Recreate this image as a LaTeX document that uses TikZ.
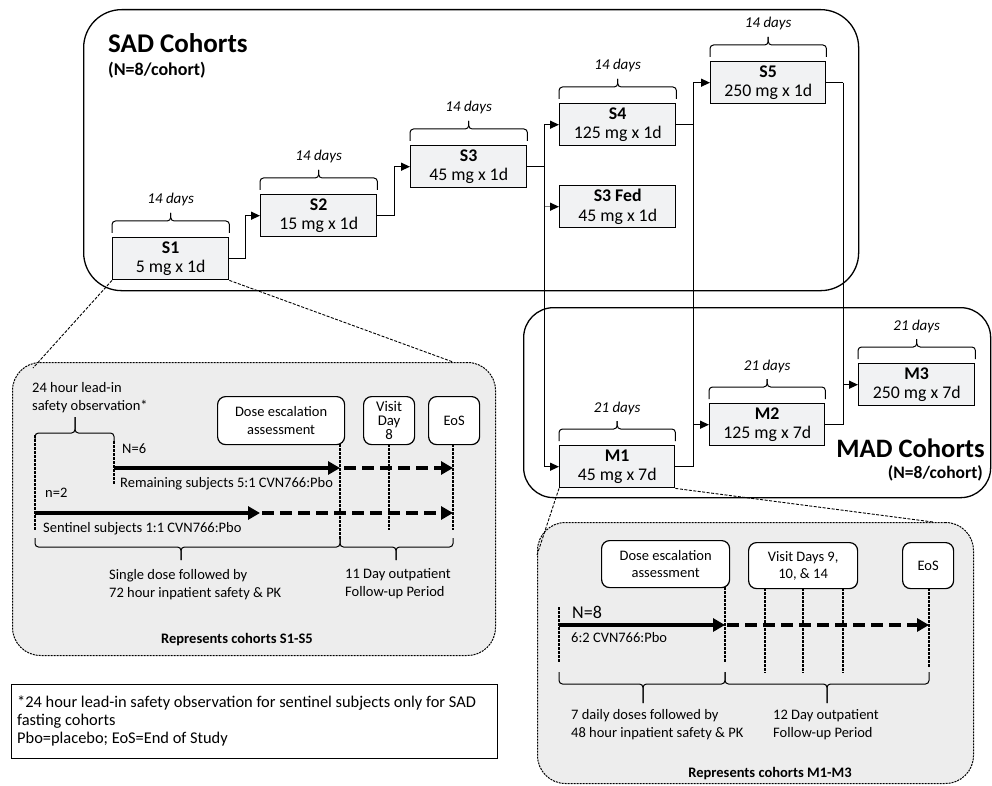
\documentclass[tikz,border=0pt]{standalone}
\usepackage{fontspec}
\setmainfont{Carlito}
\usetikzlibrary{arrows.meta,calc}
\definecolor{boxgray}{HTML}{F1F2F3}
\definecolor{panelgray}{HTML}{EDEDED}
\newcommand{\ptxt}{\fontsize{14.5}{17.3}\selectfont}
% Word-style brace: x1, x2, x of tip, y of ends, y of bar, y of tip
\newcommand{\wbr}[6]{%
  \draw[wbrace] (#1,#4) -- (#1,#5) -- (#3,#5) -- (#3,#6);
  \draw[wbrace] (#2,#4) -- (#2,#5) -- (#3,#5) -- (#3,#6);}
\begin{document}
\begin{tikzpicture}[x=1pt,y=-1pt,
  container/.style={draw, line width=1.3pt, rounded corners=38pt, inner sep=0pt, anchor=north west},
  sbox/.style={draw, line width=1.4pt, fill=boxgray, minimum width=116pt, minimum height=42pt, inner sep=0pt, align=center, font=\fontsize{17.8}{19.5}\selectfont, anchor=north west},
  days/.style={font=\fontsize{15}{16}\selectfont\itshape, anchor=base},
  wbrace/.style={line width=1pt, rounded corners=3.5pt},
  conn/.style={line width=1.3pt, -{Triangle[length=9pt,width=8pt]}},
  link/.style={line width=1.3pt},
  zoomline/.style={line width=0.9pt, dash pattern=on 3pt off 1.5pt},
  panel/.style={draw, dash pattern=on 2pt off 1pt, line width=1pt, fill=panelgray, rounded corners=28pt, inner sep=0pt, anchor=north west},
  rbox/.style={draw, fill=white, rounded corners=8pt, line width=1.2pt, align=center, font=\ptxt, inner sep=0pt, anchor=north west},
  fat/.style={line width=4pt, -{Triangle[length=12pt,width=13pt]}},
  fatdash/.style={fat, dash pattern=on 12pt off 6pt},
  tick/.style={line width=1.8pt, dash pattern=on 3pt off 1pt},
  ptext/.style={font=\ptxt, anchor=base west, inner sep=0pt},
  rep/.style={font=\fontsize{14.5}{16}\selectfont\bfseries, anchor=base, inner sep=0pt},
  fntext/.style={font=\fontsize{16.4}{18}\selectfont, anchor=base west, inner sep=0pt}
]
\useasboundingbox (0,0) rectangle (992,786);

% containers
\node[container, minimum width=775pt, minimum height=281pt] (SAD) at (83,9) {};
\node[container, rounded corners=30pt, minimum width=467pt, minimum height=190pt] (MAD) at (523,307) {};
\node[font=\fontsize{27}{30}\selectfont\bfseries, anchor=base west, inner sep=0pt] (sadt) at (108,53) {SAD Cohorts};
\node[font=\fontsize{18}{20}\selectfont\bfseries, anchor=base west, inner sep=0pt] (sadn) at (108,76) {(N=8/cohort)};
\node[font=\fontsize{26.6}{30}\selectfont\bfseries, anchor=base east, inner sep=0pt] (madt) at (985,457) {MAD Cohorts};
\node[font=\fontsize{17.5}{20}\selectfont\bfseries, anchor=base east, inner sep=0pt] (madn) at (983,478) {(N=8/cohort)};

% cohort boxes
\node[sbox] (S1) at (112,237) {\textbf{S1}\\5 mg x 1d};
\node[sbox] (S2) at (260,194) {\textbf{S2}\\15 mg x 1d};
\node[sbox] (S3) at (410,145) {\textbf{S3}\\45 mg x 1d};
\node[sbox] (S4) at (559,103) {\textbf{S4}\\125 mg x 1d};
\node[sbox] (S3F) at (559,185) {\textbf{S3 Fed}\\45 mg x 1d};
\node[sbox, minimum width=115pt] (S5) at (710,61) {\textbf{S5}\\250 mg x 1d};
\node[sbox, minimum width=115pt] (M1) at (559,445) {\textbf{M1}\\45 mg x 7d};
\node[sbox, minimum width=115pt] (M2) at (709,403) {\textbf{M2}\\125 mg x 7d};
\node[sbox] (M3) at (858,363) {\textbf{M3}\\250 mg x 7d};

% braces and durations
\foreach \b/\t in {S1/14 days,S2/14 days,S3/14 days,S4/14 days,S5/14 days,M1/21 days,M2/21 days,M3/21 days}{
  \draw[wbrace] ([yshift=4pt]\b.north west) -- ([yshift=16pt]\b.north west) -- ([yshift=16pt]\b.north) -- ([yshift=24pt]\b.north);
  \draw[wbrace] ([yshift=4pt]\b.north east) -- ([yshift=16pt]\b.north east) -- ([yshift=16pt]\b.north) -- ([yshift=24pt]\b.north);
  \node[days] at ([yshift=33pt]\b.north) {\t};
}

% connectors
\draw[conn] (S1.east) -- ++(16,0) |- (S2.west);
\draw[conn] (S2.east) -- ++(17,0) |- (S3.west);
\draw[link] (S3.east) -- ++(17,0) coordinate (b1);
\draw[conn] (b1) |- (S4.west);
\draw[line width=1.3pt, draw=gray, -{Triangle[length=9pt,width=8pt,color=black]}] (b1) |- (S3F.west);
\draw[conn] (b1) |- (M1.west);
\draw[link] (S4.east) -- ++(17,0) coordinate (b2);
\draw[link] (M1.east) -| (b2);
\draw[conn] (b2) |- (S5.west);
\draw[conn] (b2) |- (M2.west);
\draw[link] (S5.east) -- ++(17,0) coordinate (b3);
\draw[link] (M2.east) -| (b3);
\draw[conn] (b3) |- (M3.west);

% ---------- left panel ----------
\node[panel, minimum width=483pt, minimum height=293pt] (LP) at (12,362) {};
\coordinate (lpA) at (33,368);
\coordinate (lpB) at (453,362);
\draw[zoomline] (S1.south west) -- (lpA);
\draw[zoomline] (S1.south east) -- (lpB);

\node[rbox, minimum width=127pt, minimum height=48pt] (DE1) at (217,396) {Dose escalation\\assessment};
\node[rbox, minimum width=51pt, minimum height=48pt, font=\fontsize{14.8}{14}\selectfont] (VD8) at (363,396) {Visit\\Day\\8};
\node[rbox, minimum width=51pt, minimum height=48pt] (EoS1) at (428,396) {EoS};

\node[ptext] (lead1) at (32,392) {24 hour lead-in};
\node[ptext] (lead2) at (32,410) {safety observation*};
\wbr{35}{114}{75}{441}{433}{417}

\draw[tick] (35,435) -- (35,530);
\draw[tick] (114,441) -- (114,485);
\draw[tick] (340,444) -- (340,540);
\draw[tick] (389,444) -- (389,530);
\draw[tick] (453,444) -- (453,530);

\node[ptext] (n6) at (122,453) {N=6};
\draw[fat] (114,468) -- (340,468);
\draw[fatdash] (344,468) -- (453,468);
\node[ptext] (rem) at (120,487) {Remaining subjects 5:1 CVN766:Pbo};
\node[ptext] (n2) at (45,497) {n=2};
\draw[fat] (35,513) -- (260,513);
\draw[fatdash] (262,513) -- (453,513);
\node[ptext] (sen) at (43,532) {Sentinel subjects 1:1 CVN766:Pbo};

\wbr{35}{340}{181}{538}{547}{560}
\wbr{340}{453}{396}{538}{547}{560}
\node[ptext] (sd1) at (109,579) {Single dose followed by};
\node[ptext] (sd2) at (109,597) {72 hour inpatient safety \& PK};
\node[ptext] (od1) at (345,578) {11 Day outpatient};
\node[ptext] (od2) at (345,596) {Follow-up Period};
\node[rep] (rep1) at (237,643) {Represents cohorts S1-S5};

% ---------- right panel ----------
\node[panel, minimum width=436pt, minimum height=261pt] (RP) at (537,522) {};
\coordinate (rpA) at (537,555);
\coordinate (rpB) at (933,522);
\draw[zoomline] (M1.south west) -- (rpA);
\draw[zoomline] (M1.south east) -- (rpB);

\node[rbox, minimum width=128pt, minimum height=47pt] (DE2) at (601,540) {Dose escalation\\assessment};
\node[rbox, minimum width=109pt, minimum height=46pt] (VD2) at (748,542) {Visit Days 9,\\10, \& 14};
\node[rbox, minimum width=51pt, minimum height=46pt] (EoS2) at (902,542) {EoS};

\draw[tick] (559,607) -- (559,663);
\draw[tick] (725,587) -- (725,663);
\draw[tick] (765,588) -- (765,673);
\draw[tick] (803,588) -- (803,673);
\draw[tick] (843,588) -- (843,673);
\draw[tick] (929,588) -- (929,667);

\node[ptext, font=\fontsize{18}{20}\selectfont] (n8) at (572,618) {N=8};
\draw[fat] (559,625) -- (725,625);
\draw[fatdash] (727,625) -- (929,625);
\node[ptext] (r62) at (571,642) {6:2 CVN766:Pbo};

\wbr{559}{725}{643}{672}{684}{703}
\wbr{725}{929}{827}{672}{684}{703}
\node[ptext] (dd1) at (571,719) {7 daily doses followed by};
\node[ptext] (dd2) at (571,737) {48 hour inpatient safety \& PK};
\node[ptext] (od3) at (773,719) {12 Day outpatient};
\node[ptext] (od4) at (773,737) {Follow-up Period};
\node[rep] (rep2) at (770,777) {Represents cohorts M1-M3};

% ---------- footnote ----------
\node[draw, line width=0.8pt, minimum width=486pt, minimum height=74pt, inner sep=0pt, anchor=north west] (FN) at (11,684) {};
\node[fntext] (fn1) at (17,707) {*24 hour lead-in safety observation for sentinel subjects only for SAD};
\node[fntext] (fn2) at (17,725) {fasting cohorts};
\node[fntext] (fn3) at (17,743) {Pbo=placebo; EoS=End of Study};
\end{tikzpicture}
\end{document}
